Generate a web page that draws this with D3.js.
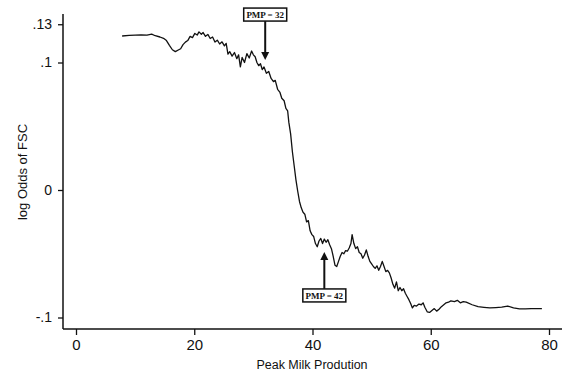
<!DOCTYPE html>
<html>
<head>
<meta charset="utf-8">
<script src="https://cdn.jsdelivr.net/npm/d3@7"></script>
<style>
  body { margin: 0; background: #fff; }
  svg text { font-family: "Liberation Sans", Arial, sans-serif; fill: #111; }
</style>
</head>
<body>
<div id="chart"></div>
<script>
// peak milk production (x) and log odds of FSC (y)
var pmp = [
  7.8, 9, 10, 11, 12, 12.8, 13.4, 14.2, 14.8, 15.3, 15.8, 16.3, 16.8, 17.3, 17.7, 18.1, 18.5, 18.9, 19.3, 19.7,
  20.1, 20.5, 20.8, 21.2, 21.5, 21.9, 22.3, 22.7, 23.1, 23.5, 23.9, 24.3, 24.7, 25.1, 25.4, 25.7, 26.0, 26.4, 26.8, 27.2,
  27.5, 27.8, 28.1, 28.5, 28.9, 29.3, 29.7, 30.0, 30.3, 30.6, 30.9, 31.2, 31.5, 31.8, 32.2, 32.6, 33.0, 33.4, 33.7, 34.1,
  34.5, 34.8, 35.2, 35.5, 35.8, 36.0, 36.3, 36.6, 36.9, 37.2, 37.5, 37.8, 38.1, 38.4, 38.7, 39.0, 39.3, 39.6, 39.9, 40.2,
  40.5, 40.8, 41.1, 41.4, 41.7, 42.0, 42.3, 42.6, 42.9, 43.2, 43.5, 43.8, 44.1, 44.4, 44.7, 45.0, 45.3, 45.6, 45.9, 46.2,
  46.5, 46.7, 47.0, 47.3, 47.6, 47.9, 48.2, 48.5, 48.8, 49.1, 49.4, 49.7, 50.0, 50.3, 50.6, 50.9, 51.2, 51.5, 51.8, 52.1,
  52.4, 52.7, 53.0, 53.3, 53.6, 53.9, 54.2, 54.5, 54.8, 55.1, 55.4, 55.7, 56.0, 56.3, 56.6, 56.9, 57.2, 57.6, 58.0, 58.4,
  58.7, 59.0, 59.4, 59.8, 60.2, 60.6, 61.0, 61.4, 61.8, 62.2, 62.6, 63.0, 63.4, 64.0, 64.5, 65.0, 65.5, 66.0, 67.0, 68.0,
  69.0, 70.0, 71.0, 72.0, 73.0, 74.0, 75.0, 76.0, 77.0, 78.8
];
var logOdds = [
  0.1208, 0.1212, 0.1214, 0.1216, 0.1215, 0.1222, 0.1210, 0.1200, 0.1190, 0.1172, 0.1135, 0.1100, 0.1085, 0.1098, 0.1108, 0.1140, 0.1160, 0.1172, 0.1205, 0.1195,
  0.1228, 0.1215, 0.1240, 0.1222, 0.1235, 0.1205, 0.1220, 0.1188, 0.1200, 0.1160, 0.1175, 0.1145, 0.1162, 0.1130, 0.1150, 0.1065, 0.1085, 0.1050, 0.1078, 0.1030,
  0.1060, 0.0965, 0.1040, 0.1000, 0.1070, 0.1035, 0.1090, 0.1060, 0.1045, 0.1000, 0.0975, 0.0990, 0.0945, 0.0965, 0.0915, 0.0930, 0.0875, 0.0850, 0.0860, 0.0790,
  0.0765, 0.0720, 0.0700, 0.0640, 0.0620, 0.0530, 0.0440, 0.0300, 0.0190, 0.0080, -0.0010, -0.0090, -0.0140, -0.0175, -0.0190, -0.0250, -0.0240, -0.0320, -0.0350, -0.0365,
  -0.0420, -0.0445, -0.0400, -0.0380, -0.0420, -0.0385, -0.0410, -0.0390, -0.0430, -0.0460, -0.0520, -0.0590, -0.0600, -0.0560, -0.0520, -0.0490, -0.0500, -0.0475, -0.0480, -0.0455,
  -0.0420, -0.0350, -0.0420, -0.0460, -0.0445, -0.0490, -0.0500, -0.0535, -0.0510, -0.0470, -0.0520, -0.0560, -0.0580, -0.0600, -0.0615, -0.0595, -0.0630, -0.0600, -0.0560, -0.0600,
  -0.0640, -0.0630, -0.0650, -0.0690, -0.0740, -0.0770, -0.0720, -0.0790, -0.0765, -0.0790, -0.0775, -0.0810, -0.0835, -0.0860, -0.0890, -0.0925, -0.0905, -0.0910, -0.0895, -0.0900,
  -0.0885, -0.0920, -0.0955, -0.0960, -0.0945, -0.0930, -0.0950, -0.0935, -0.0915, -0.0900, -0.0885, -0.0880, -0.0870, -0.0875, -0.0865, -0.0885, -0.0875, -0.0880, -0.0900, -0.0915,
  -0.0920, -0.0925, -0.0922, -0.0918, -0.0910, -0.0925, -0.0932, -0.0932, -0.0930, -0.0930
];
var xTicks = [0, 20, 40, 60, 80];
var yTicks = [-0.1, 0, 0.1, 0.13];
var yTickLabels = ["-.1", "0", ".1", ".13"];

// annotations: arrow x, arrow tip and box edge on the y scale
var notes = [
  { label: "PMP = 32", pmp: 32, tip: 0.102, box: 0.1325 },
  { label: "PMP = 42", pmp: 42, tip: -0.0486, box: -0.0776 }
];

var width = 566, height = 373;

var svg = d3.select("#chart").append("svg")
  .attr("width", width)
  .attr("height", height);

var x = d3.scaleLinear().domain([0, 80]).range([76, 549]);
var y = d3.scaleLinear().domain([-0.1, 0.13]).range([317.5, 24.25]);

var axisLeftX = 63, axisBottomY = 329;

// y axis
var yAxis = d3.axisLeft(y)
  .tickValues(yTicks)
  .tickSize(5)
  .tickPadding(6)
  .tickFormat(function (d, i) { return yTickLabels[i]; });

svg.append("g")
  .attr("class", "y axis")
  .attr("transform", "translate(" + axisLeftX + ",0)")
  .call(yAxis)
  .call(function (g) { g.select(".domain").remove(); })
  .call(function (g) {
    g.selectAll("line").attr("stroke", "#111").attr("stroke-width", 1.3);
    g.selectAll("text").style("font-size", "14px");
  });

svg.append("line")
  .attr("x1", axisLeftX).attr("x2", axisLeftX)
  .attr("y1", 14).attr("y2", axisBottomY)
  .attr("stroke", "#111").attr("stroke-width", 1.5);

// x axis
var xAxis = d3.axisBottom(x)
  .tickValues(xTicks)
  .tickSize(6)
  .tickPadding(4);

svg.append("g")
  .attr("class", "x axis")
  .attr("transform", "translate(0," + axisBottomY + ")")
  .call(xAxis)
  .call(function (g) { g.select(".domain").remove(); })
  .call(function (g) {
    g.selectAll("line").attr("stroke", "#111").attr("stroke-width", 1.3);
    g.selectAll("text").style("font-size", "15px");
  });

svg.append("line")
  .attr("x1", axisLeftX).attr("x2", 562)
  .attr("y1", axisBottomY).attr("y2", axisBottomY)
  .attr("stroke", "#111").attr("stroke-width", 1.5);

// axis titles
svg.append("text")
  .attr("x", 312)
  .attr("y", 369)
  .attr("text-anchor", "middle")
  .style("font-size", "12.5px")
  .text("Peak Milk Prodution");

svg.append("text")
  .attr("transform", "translate(27,172) rotate(-90)")
  .attr("text-anchor", "middle")
  .style("font-size", "13px")
  .text("log Odds of FSC");

// the curve
var points = pmp.map(function (d, i) { return [d, logOdds[i]]; });
var line = d3.line()
  .x(function (d) { return x(d[0]); })
  .y(function (d) { return y(d[1]); });

svg.append("path")
  .datum(points)
  .attr("d", line)
  .attr("fill", "none")
  .attr("stroke", "#111")
  .attr("stroke-width", 1.3)
  .attr("stroke-linejoin", "round");

// annotations
var boxW = 43, boxH = 13, head = 8;
notes.forEach(function (n) {
  var ax = x(n.pmp), tipY = y(n.tip), boxY = y(n.box);
  var down = boxY < tipY;
  var boxTop = down ? boxY - boxH : boxY;
  var g = svg.append("g");
  g.append("line")
    .attr("x1", ax).attr("x2", ax)
    .attr("y1", boxY).attr("y2", down ? tipY - head + 1 : tipY + head - 1)
    .attr("stroke", "#111").attr("stroke-width", 2);
  g.append("path")
    .attr("d", down
      ? "M" + (ax - 4) + "," + (tipY - head) + "L" + (ax + 4) + "," + (tipY - head) + "L" + ax + "," + tipY + "Z"
      : "M" + (ax - 4) + "," + (tipY + head) + "L" + (ax + 4) + "," + (tipY + head) + "L" + ax + "," + tipY + "Z")
    .attr("fill", "#111");
  g.append("rect")
    .attr("x", ax - boxW / 2).attr("y", boxTop)
    .attr("width", boxW).attr("height", boxH)
    .attr("fill", "#fff").attr("stroke", "#111").attr("stroke-width", 1.5);
  g.append("text")
    .attr("x", ax).attr("y", boxTop + boxH / 2)
    .attr("dy", "0.35em")
    .attr("text-anchor", "middle")
    .style("font-family", "'Liberation Serif', 'Times New Roman', serif")
    .style("font-weight", "bold")
    .style("font-size", "9px")
    .text(n.label);
});
</script>
</body>
</html>
